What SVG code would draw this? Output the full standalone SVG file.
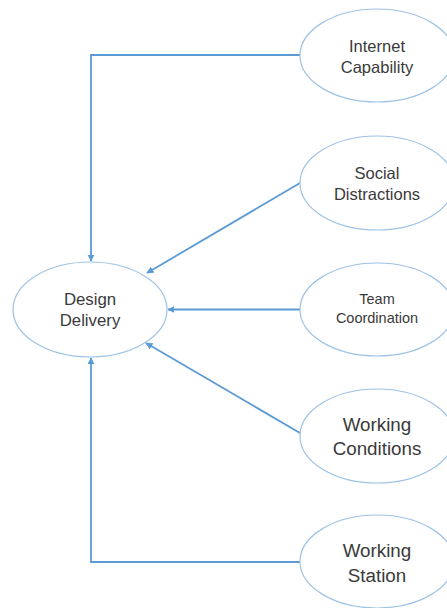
<svg xmlns="http://www.w3.org/2000/svg" width="447" height="608" viewBox="0 0 447 608">
<style>
.node ellipse{fill:#fff;stroke:#9DC3E6;stroke-width:1.2}
.node text{font-family:"Liberation Sans",Arial,sans-serif;fill:#3a3a3a;text-anchor:middle}
.edge{fill:none;stroke:#5B9BD5;stroke-width:1.8;marker-end:url(#arr)}
</style>
<defs>
<marker id="arr" viewBox="0 0 10 10" refX="9" refY="5" markerWidth="4" markerHeight="4" orient="auto" markerUnits="strokeWidth">
<path d="M0,0 L10,5 L0,10 z" fill="#5B9BD5"/>
</marker>
</defs>
<rect width="447" height="608" fill="#fff"/>
<g id="connectors">
<path class="edge" d="M300,55 H91 V261"/>
<path class="edge" d="M300,183 L147,273"/>
<path class="edge" d="M300,309.5 H168"/>
<path class="edge" d="M300,433 L146,343"/>
<path class="edge" d="M300,562 H91 V358"/>
</g>
<g id="internet-capability" class="node">
<ellipse cx="377" cy="55.5" rx="77" ry="46.5"/>
<text x="377" y="52" font-size="16.5">Internet</text>
<text x="377" y="73" font-size="16.5">Capability</text>
</g>
<g id="social-distractions" class="node">
<ellipse cx="377" cy="183" rx="77" ry="47"/>
<text x="377" y="179" font-size="16.5">Social</text>
<text x="377" y="200" font-size="16.5">Distractions</text>
</g>
<g id="design-delivery" class="node">
<ellipse cx="90" cy="309.5" rx="77" ry="47.5"/>
<text x="90" y="305" font-size="16.8">Design</text>
<text x="90" y="326" font-size="16.8">Delivery</text>
</g>
<g id="team-coordination" class="node">
<ellipse cx="377" cy="309.5" rx="77" ry="46.5"/>
<text x="377" y="304" font-size="14.5">Team</text>
<text x="377" y="323" font-size="14.5">Coordination</text>
</g>
<g id="working-conditions" class="node">
<ellipse cx="377" cy="436" rx="77" ry="47"/>
<text x="377" y="431" font-size="18.8">Working</text>
<text x="377" y="455" font-size="18.8">Conditions</text>
</g>
<g id="working-station" class="node">
<ellipse cx="377" cy="561.5" rx="77" ry="46.5"/>
<text x="377" y="557" font-size="18.8">Working</text>
<text x="377" y="582" font-size="18.8">Station</text>
</g>
</svg>
